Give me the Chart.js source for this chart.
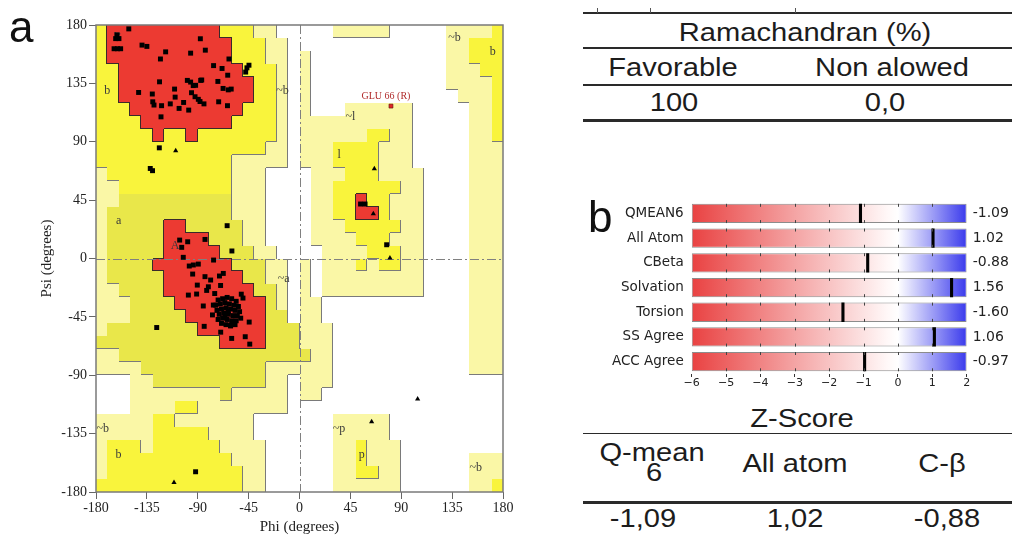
<!DOCTYPE html>
<html><head><meta charset="utf-8">
<script src="https://cdn.jsdelivr.net/npm/chart.js@4.4.1/dist/chart.umd.min.js"></script>
<style>
html,body{margin:0;padding:0;background:#fff;}
body{width:1012px;height:535px;overflow:hidden;position:relative;font-family:"Liberation Sans",Arial,sans-serif;}
canvas{position:absolute;}
#rama{left:0;top:0;}
#zs{left:583px;top:185px;}
.t{position:absolute;white-space:nowrap;color:#1c1c1c;font-size:26px;line-height:1;transform:translate(-50%,-50%) scaleX(1.12);}
.hl{position:absolute;left:583px;width:429px;background:#2a2a2a;}
.vt{position:absolute;width:1px;height:5px;top:8px;background:#555;}
.pl{position:absolute;font-size:44px;line-height:1;color:#111;}
</style></head>
<body>
<canvas id="rama" width="560" height="535"></canvas>
<canvas id="zs" width="429" height="210"></canvas>

<div class="pl" style="left:9px;top:5px;">a</div>
<div class="pl" style="left:588px;top:195px;">b</div>

<div class="hl" style="top:12px;height:1.5px;"></div>
<div class="vt" style="left:597px;"></div><div class="vt" style="left:650px;"></div><div class="vt" style="left:795px;"></div>
<div class="t" style="left:805px;top:32px;">Ramachandran (%)</div>
<div class="hl" style="top:47px;height:1.5px;"></div>
<div class="t" style="left:673px;top:67px;">Favorable</div>
<div class="t" style="left:892px;top:67px;">Non alowed</div>
<div class="hl" style="top:83.5px;height:2.5px;"></div>
<div class="t" style="left:674px;top:102px;">100</div>
<div class="t" style="left:885px;top:102px;">0,0</div>
<div class="hl" style="top:119px;height:2.5px;"></div>

<div class="t" style="left:802px;top:418px;">Z-Score</div>
<div class="hl" style="top:432.5px;height:1.5px;"></div>
<div class="t" style="left:652px;top:452px;">Q-mean</div>
<div class="t" style="left:654px;top:472px;">6</div>
<div class="t" style="left:795px;top:463px;">All atom</div>
<div class="t" style="left:942px;top:463px;">C-β</div>
<div class="hl" style="top:501px;height:2.5px;"></div>
<div class="t" style="left:643px;top:518px;">-1,09</div>
<div class="t" style="left:795px;top:518px;">1,02</div>
<div class="t" style="left:947px;top:518px;">-0,88</div>

<script>
// ---------------- DATA ----------------
// Ramachandran region map: 36 rows (psi 180 -> -180, 10 deg each), 36 cols (phi -180 -> 180)
// W disallowed, P generously allowed, Y/A additionally allowed, R most favoured
const regionRows = [
"YRRRRRRRRRRYYYPPWW|WWWPPPPPWWWWWPPPPY",
"YRRRRRRRRRRRYYYPPW|WWWWWWWWWWWWWPPYYY",
"YRRRRRRRRRRRYYYPPW|PWWWWWWWWWWWWPPYYY",
"YYRRRRRRRRRRRYYYPW|PWWWWWWWWWWWWPPPYY",
"YYRRRRRRRRRRRRYYPW|PWWWWWWWWWWWWPPPPY",
"YYRRRRRRRRRRRRYYPW|PWWWWWWWWWWWWWPPPY",
"YYYRRRRRRRRRRYYYPW|PWWWPPPPPPWWWWWPPY",
"YYYYRRRRRRRRYYYYPW|PPPPPPPPPPWWWWWPPY",
"YYYYYRYYRYYYYYYYPW|PPPPPPYYPPWWWWWPPY",
"YYYYYYYYYYYYYYYPPW|PPPYYYYPPPWWWWWPPP",
"YYYYYYYYYYYYPPPPPW|PPPYYYYPPPWWWWWPPP",
"PYYYYYYYYYYYPPPWWW|WPPPYYYPPPPWWWWPPP",
"PPYYYYYYYYYYPPPWWW|WPPYYYYYYPPWWWWPPP",
"PPAAAAAAAAAAPPPWWW|WPPYYRYYPPPWWWWPPP",
"PAAAAAAAAAAAPPPWWW|WPPYYRRYPPPWWWWPPP",
"PAAAAARRAAAAAPPWWW|WPPPYYYYYPPWWWWPPP",
"PAAAAARRRRAAAPPWWW|WPPPPYYYPPPWWWWPPP",
"PAAAAARRRRRAAAPPWW|WWPPPPYYYPPWWWWPPP",
"PAAAARRRRRRRAAAPPW|PWPPPYPYYPPWWWWPPP",
"PAAAAARRRRRRRAAPPW|PWPPPPPPPPPWWWWPPP",
"PPAAAARRRRRRRRAAPW|PWPPPPPPPPPWWWWPPP",
"PPPAAAARRRRRRRRAPW|PPWWWWWWWWWWWWWPPP",
"PPPAAAAARRRRRRRAAW|PPWWWWWWWWWWWWWPPP",
"PAAAAAAAARRRRRRAAA|PPPWWWWWWWWWWWWPPP",
"AAAAAAAAAAARRRRAAA|PPPWWWWWWWWWWWWPPP",
"PPAAAAAAAAAAAAAAAA|APPWWWWWWWWWWWWPPP",
"PPPPAAAAAAAAAAAPPP|PPPWWWWWWWWWWWWPPP",
"WWWPPAAAAAAAAAAPPW|PPPWWWWWWWWWWWWWWW",
"WWWPPPPPPPPAPPPPPW|PPWWWWWWWWWWWWWWWW",
"WWWPPPPYYPPPPPPPPW|WWWWWWWWWWWWWWWWWW",
"PPPPPYYPPPPPPPWWWW|WWWPPPPPWWWWWWWWWW",
"PPPPPYYYYYPPPPWWWW|WWWPPPPPWWWWWWWWWW",
"PYYYPYYYYYYPPPPWWW|WWWPPYPPPWWWWWWWWW",
"PYYYYYYYYYYYPPPWWW|WWWPPYPPPWWWWWWPPP",
"PYYYYYYYYYYYYPPWWW|WWWPPYYPPWWWWWWPPP",
"YYYYYYYYYYYYYPPWWW|WWWPPPPPPWWWWWWPPY"
];
const ramaTicks = [-180,-135,-90,-45,0,45,90,135,180];

// residues (phi, psi) - squares
const squarePts = [
[-151,177],[-161.5,172.3],[-162.6,169.5],[-159.7,169.5],[-164,161.7],[-161,161.7],[-158.2,161.7],
[-139.3,164.5],[-135,163.5],[-118.4,159.3],[-123,153.8],[-96.3,158.3],[-87.7,169.4],[-83.3,160.6],
[-62.4,153.8],[-76,148.7],[-68.5,146.5],[-63.5,141.3],[-46.5,147],[-47.6,143.7],[-44.7,149],
[-123.8,136.2],[-99.2,137.3],[-96.3,136],[-87.4,137.3],[-72.2,136.5],[-67.6,131.1],[-63,130],[-60.4,130.6],
[-142.3,128],[-130.2,126.8],[-110.5,130.6],[-110,124.4],[-95.5,127.8],[-92.4,124.7],[-89.5,122.7],[-88,121],
[-84.5,119.2],[-91.9,133.5],[-102.5,120.3],[-114.3,119.2],[-106.5,115.7],[-98,114.4],[-122,117.8],
[-129.8,120.8],[-128.7,118.3],[-71.5,120.8],[-63.7,117.8],[-122.5,109.2],[-86.5,137.6],[-94,133.3],
[-124,85.3],[-132,69.4],[-130,67.7],
[-64,25.3],[-59.8,5.8],[-106,14.2],[-104.2,8.6],[-98.9,12.9],[-83.6,14.7],[-102.8,0.9],[-97.5,-5.8],
[-93.9,-5],[-89.5,-4.3],[-76,-1.2],[-94.5,-12],[-90.4,-20.5],[-83.6,-14],[-78.6,-16.6],[-70.8,-13.5],
[-67.4,-11.5],[-69.8,-20.8],[-80.6,-21.8],[-82.1,-24.6],[-98.3,-28.2],[-91,-27.4],[-85.1,-36.6],
[-76.2,-35.9],[-75,-27],[-51.5,-27.5],[-50,-30.5],[-44.5,-49],[-60,-61.6],[-48,-60.3],[-44,-66],
[-69.7,-56.8],[-84.3,-52.3],[-126.3,-53.2],[-77,-43.5],[-60.9,-51.5],
[-72,-32],[-68,-31],[-64,-30],[-60,-31],[-56,-33],[-74,-36],[-70,-35],[-66,-34],[-62,-35],[-58,-36],
[-54,-37],[-73,-40],[-69,-39],[-65,-38],[-61,-39],[-57,-40],[-53,-41],[-71,-43],[-67,-42],[-63,-43],
[-59,-44],[-55,-44],[-52,-46],[-72,-47],[-68,-46],[-64,-47],[-60,-48],[-56,-48],[-69,-50],[-65,-51],
[-61,-52],[-57,-51],[-63,-41],[-66,-45],
[54,42],[58,42],[77.1,10.6],[-91.9,-164.4]
];
// glycines - triangles
const trianglePts = [[-109.5,83.1],[66.2,69.2],[65.3,34.5],[80,0.4],[63.8,-125.8],[-111,-172.6],[104.5,-108.4]];
// flagged residue
const flaggedPts = [[80.9,117.5]];
const flaggedNames = ['GLU 66 (R)'];

const regionLabelText = ['B','b','a','A','~b','~a','~b','b','~b','b','~l','l','~p','p','~b'];
const regionLabelPhi  = [-161,-170,-160,-110,-15,-14,-174,-160,137,171,45,35,35,55,156];
const regionLabelPsi  = [171,129,29,10,129,-16,-131,-151,170,159,109,80,-131,-151,-161];

// QMEAN Z-scores
const zCategories = ['QMEAN6','All Atom','CBeta','Solvation','Torsion','SS Agree','ACC Agree'];
const zValues = [-1.09, 1.02, -0.88, 1.56, -1.60, 1.06, -0.97];
const zLabels = ['-1.09','1.02','-0.88','1.56','-1.60','1.06','-0.97'];
const zTicks = [-6,-5,-4,-3,-2,-1,0,1,2];
const zMin = -6, zMax = 2;

// ---------------- RAMACHANDRAN ----------------
const grid = regionRows.map(r => r.replace('|',''));
grid.forEach((r,i)=>{ if(r.length!==36) throw new Error('row '+i+' length '+r.length); });
if (grid.length!==36) throw new Error('rows '+grid.length);

const levelColor = {P:'#faf7a6', Y:'#f9f43c', A:'#e9e74a', R:'#ec3a32'};
const levelOf = c => ({W:0,P:1,Y:2,A:2,R:3})[c];

const regionPlugin = {
  id:'regions',
  beforeDatasetsDraw(chart){
    const {ctx, scales:{x,y}} = chart;
    const px = v => Math.round(x.getPixelForValue(v));
    const py = v => Math.round(y.getPixelForValue(v));
    ctx.save();
    for (let m=0;m<36;m++){
      const yT = py(180-10*m), yB = py(170-10*m);
      for (let k=0;k<36;k++){
        const c = grid[m][k];
        if (c==='W') continue;
        const xL = px(-180+10*k), xR = px(-170+10*k);
        ctx.fillStyle = levelColor[c];
        ctx.fillRect(xL, yT, xR-xL, yB-yT);
      }
    }
    ctx.lineWidth = 1;
    for (let m=0;m<36;m++){
      const yT = py(180-10*m), yB = py(170-10*m);
      for (let k=0;k<36;k++){
        const xL = px(-180+10*k), xR = px(-170+10*k);
        const a = levelOf(grid[m][k]);
        if (k<35){
          const b = levelOf(grid[m][k+1]);
          if (a!==b && (a===3||b===3||a>b)){
            ctx.strokeStyle = (a===3||b===3) ? '#3a2a2a' : '#7a7a7a';
            ctx.beginPath(); ctx.moveTo(xR-0.5,yT); ctx.lineTo(xR-0.5,yB); ctx.stroke();
          }
        }
        if (m<35){
          const b = levelOf(grid[m+1][k]);
          if (a!==b && (a===3||b===3||a>b)){
            ctx.strokeStyle = (a===3||b===3) ? '#3a2a2a' : '#7a7a7a';
            ctx.beginPath(); ctx.moveTo(xL,yB-0.5); ctx.lineTo(xR,yB-0.5); ctx.stroke();
          }
        }
      }
    }
    // zero lines
    ctx.strokeStyle = '#808080';
    ctx.setLineDash([9,3,2,3]);
    const x0 = px(0)+0.5, y0 = py(0)+0.5;
    const a = chart.chartArea;
    ctx.beginPath(); ctx.moveTo(x0,a.top); ctx.lineTo(x0,a.bottom); ctx.stroke();
    ctx.beginPath(); ctx.moveTo(a.left,y0); ctx.lineTo(a.right,y0); ctx.stroke();
    ctx.setLineDash([]);
    // region labels
    ctx.fillStyle = '#3a3a3a';
    ctx.font = '12px "Liberation Serif"';
    ctx.textAlign = 'center'; ctx.textBaseline = 'middle';
    regionLabelText.forEach((t,i)=>{
      ctx.fillText(t, x.getPixelForValue(regionLabelPhi[i]), y.getPixelForValue(regionLabelPsi[i]));
    });
    ctx.restore();
  },
  afterDraw(chart){
    const {ctx, chartArea:a, scales:{x,y}} = chart;
    ctx.save();
    ctx.strokeStyle = '#7a7a7a'; ctx.lineWidth = 1.5;
    ctx.strokeRect(a.left, a.top, a.right-a.left, a.bottom-a.top);
    // flagged residue label
    ctx.fillStyle = '#b02a2a';
    ctx.font = '10px "Liberation Serif"';
    ctx.textAlign = 'center'; ctx.textBaseline = 'middle';
    flaggedPts.forEach((p,i)=>{
      ctx.fillText(flaggedNames[i], x.getPixelForValue(p[0])-5, y.getPixelForValue(p[1])-10);
    });
    // axis titles
    ctx.fillStyle = '#222';
    ctx.font = '15px "Liberation Serif"';
    ctx.fillText('Phi (degrees)', (a.left+a.right)/2, 527);
    ctx.translate(47, (a.top+a.bottom)/2);
    ctx.rotate(-Math.PI/2);
    ctx.fillText('Psi (degrees)', 0, 0);
    ctx.restore();
  }
};

const toXY = arr => arr.map(p=>({x:p[0], y:p[1]}));
new Chart(document.getElementById('rama'), {
  type:'scatter',
  data:{datasets:[
    {data:toXY(squarePts), pointStyle:'rect', pointRadius:3.5, backgroundColor:'#000', borderWidth:0},
    {data:toXY(trianglePts), pointStyle:'triangle', pointRadius:3, backgroundColor:'#000', borderWidth:0},
    {data:toXY(flaggedPts), pointStyle:'rect', pointRadius:2.8, backgroundColor:'#e02626', borderColor:'#5a1010', borderWidth:0.6}
  ]},
  options:{
    responsive:false, animation:false, devicePixelRatio:1,
    layout:{padding:{top:25, right:57, left:0, bottom:0}},
    plugins:{legend:{display:false}, tooltip:{enabled:false}},
    scales:{
      x:{type:'linear', min:-180, max:180,
         afterBuildTicks:s=>{s.ticks = ramaTicks.map(v=>({value:v}));},
         afterFit:s=>{s.height = 43;},
         grid:{drawOnChartArea:false, tickLength:7, color:'#666'},
         border:{display:false},
         ticks:{font:{family:'Liberation Serif', size:14}, color:'#222', padding:1, maxRotation:0, autoSkip:false}},
      y:{type:'linear', min:-180, max:180,
         afterBuildTicks:s=>{s.ticks = ramaTicks.map(v=>({value:v}));},
         afterFit:s=>{s.width = 96;},
         grid:{drawOnChartArea:false, tickLength:7, color:'#666'},
         border:{display:false},
         ticks:{font:{family:'Liberation Serif', size:14}, color:'#222', padding:2, autoSkip:false}}
    }
  },
  plugins:[regionPlugin]
});

// ---------------- Z-SCORE BARS ----------------
const gradFill = (c) => {
  const ch = c.chart;
  if (!ch.chartArea) return '#fff';
  const xs = ch.scales.x;
  const x0 = xs.getPixelForValue(zMin), x1 = xs.getPixelForValue(zMax);
  const g = ch.ctx.createLinearGradient(x0,0,x1,0);
  const f = v => (xs.getPixelForValue(v)-x0)/(x1-x0);
  g.addColorStop(0,'rgb(233,66,66)');
  g.addColorStop(f(-3),'rgb(244,164,164)');
  g.addColorStop(f(-0.3),'rgb(255,248,248)');
  g.addColorStop(f(0),'rgb(255,255,255)');
  g.addColorStop(f(1),'rgb(158,158,246)');
  g.addColorStop(1,'rgb(58,58,236)');
  return g;
};

const barTicks = {
  id:'barTicks',
  afterDatasetsDraw(chart){
    const {ctx, scales:{x}} = chart;
    const meta = chart.getDatasetMeta(0);
    ctx.save();
    ctx.strokeStyle = '#444'; ctx.lineWidth = 1;
    meta.data.forEach(bar=>{
      const top = bar.y - bar.height/2, bot = bar.y + bar.height/2;
      for (let v=zMin+1; v<zMax; v++){
        const xp = Math.round(x.getPixelForValue(v))+0.5;
        ctx.beginPath(); ctx.moveTo(xp,top); ctx.lineTo(xp,top+3); ctx.stroke();
        ctx.beginPath(); ctx.moveTo(xp,bot-3); ctx.lineTo(xp,bot); ctx.stroke();
      }
    });
    ctx.restore();
  }
};

new Chart(document.getElementById('zs'), {
  type:'bar',
  data:{labels:zCategories, datasets:[
    {data:zCategories.map(()=>[zMin,zMax]), backgroundColor:gradFill, borderColor:'#8c8c8c', borderWidth:1,
     borderSkipped:false, grouped:false, barPercentage:0.78, categoryPercentage:1, order:2},
    {data:zValues.map(v=>[v-0.045, v+0.045]), backgroundColor:'#000', borderWidth:0,
     grouped:false, barPercentage:0.78, categoryPercentage:1, order:1}
  ]},
  options:{
    indexAxis:'y', responsive:false, animation:false, devicePixelRatio:1,
    layout:{padding:{top:9, bottom:0, left:0, right:0}},
    plugins:{legend:{display:false}, tooltip:{enabled:false}},
    scales:{
      x:{type:'linear', min:zMin, max:zMax,
         afterBuildTicks:s=>{s.ticks = zTicks.map(v=>({value:v}));},
         afterFit:s=>{s.height = 21;},
         grid:{drawOnChartArea:false, tickLength:3, color:'#333'},
         border:{display:false},
         ticks:{callback:v=>String(v).replace('-','\u2212'), font:{family:'DejaVu Sans', size:11}, color:'#222', padding:0, maxRotation:0, autoSkip:false}},
      y:{afterFit:s=>{s.width = 108.7;},
         grid:{display:false, drawTicks:false}, border:{display:false},
         ticks:{font:{family:'DejaVu Sans', size:13.5}, color:'#222', padding:8}},
      y2:{type:'category', labels:zLabels, position:'right', offset:true,
         afterFit:s=>{s.width = 45.3;},
         grid:{display:false, drawTicks:false}, border:{display:false},
         ticks:{font:{family:'DejaVu Sans', size:14}, color:'#222', padding:6}}
    }
  },
  plugins:[barTicks]
});
</script>
</body></html>
